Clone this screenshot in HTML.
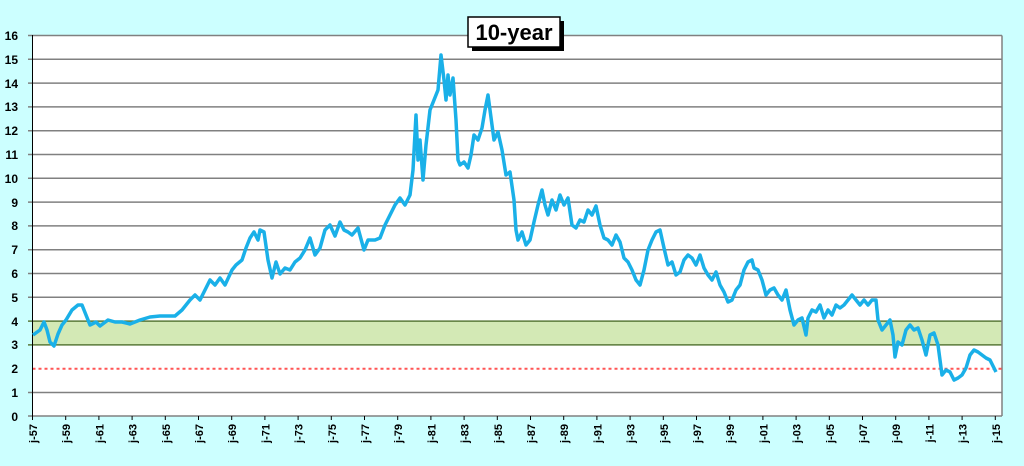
<!DOCTYPE html>
<html><head><meta charset="utf-8"><style>
body{margin:0;background:#ccffff;}
svg{display:block;font-family:"Liberation Sans",sans-serif;}
</style></head><body>
<svg width="1024" height="466" viewBox="0 0 1024 466" xmlns="http://www.w3.org/2000/svg">
<rect width="1024" height="466" fill="#ccffff"/>
<rect x="32.5" y="35.5" width="969.5" height="380.5" fill="#fff"/>
<rect x="32.5" y="321" width="969.5" height="24" fill="#d3e9b5"/>
<g stroke="#808080" stroke-width="1.5">
<line x1="28" y1="35.5" x2="1002" y2="35.5"/>
<line x1="28" y1="59.3" x2="1002" y2="59.3"/>
<line x1="28" y1="83.1" x2="1002" y2="83.1"/>
<line x1="28" y1="106.9" x2="1002" y2="106.9"/>
<line x1="28" y1="130.7" x2="1002" y2="130.7"/>
<line x1="28" y1="154.5" x2="1002" y2="154.5"/>
<line x1="28" y1="178.3" x2="1002" y2="178.3"/>
<line x1="28" y1="202.1" x2="1002" y2="202.1"/>
<line x1="28" y1="225.9" x2="1002" y2="225.9"/>
<line x1="28" y1="249.7" x2="1002" y2="249.7"/>
<line x1="28" y1="273.5" x2="1002" y2="273.5"/>
<line x1="28" y1="297.3" x2="1002" y2="297.3"/>
<line x1="28" y1="321.1" x2="1002" y2="321.1" stroke="#5a7a3a"/>
<line x1="28" y1="344.9" x2="1002" y2="344.9" stroke="#5a7a3a"/>
<line x1="28" y1="392.5" x2="1002" y2="392.5"/>
<line x1="28" y1="416" x2="1002" y2="416"/>
<line x1="1002" y1="35.5" x2="1002" y2="416"/>
</g>
<line x1="32.5" y1="368.7" x2="1002" y2="368.7" stroke="#ff5555" stroke-width="2" stroke-dasharray="3,3"/>
<line x1="32.5" y1="35" x2="32.5" y2="420" stroke="#000" stroke-width="1"/>
<g stroke="#000">
<line x1="32.5" y1="416" x2="32.5" y2="420"/><line x1="65.7" y1="416" x2="65.7" y2="420"/><line x1="98.9" y1="416" x2="98.9" y2="420"/><line x1="132.1" y1="416" x2="132.1" y2="420"/><line x1="165.3" y1="416" x2="165.3" y2="420"/><line x1="198.5" y1="416" x2="198.5" y2="420"/><line x1="231.7" y1="416" x2="231.7" y2="420"/><line x1="264.9" y1="416" x2="264.9" y2="420"/><line x1="298.1" y1="416" x2="298.1" y2="420"/><line x1="331.3" y1="416" x2="331.3" y2="420"/><line x1="364.5" y1="416" x2="364.5" y2="420"/><line x1="397.7" y1="416" x2="397.7" y2="420"/><line x1="430.9" y1="416" x2="430.9" y2="420"/><line x1="464.1" y1="416" x2="464.1" y2="420"/><line x1="497.3" y1="416" x2="497.3" y2="420"/><line x1="530.5" y1="416" x2="530.5" y2="420"/><line x1="563.7" y1="416" x2="563.7" y2="420"/><line x1="596.9" y1="416" x2="596.9" y2="420"/><line x1="630.1" y1="416" x2="630.1" y2="420"/><line x1="663.3" y1="416" x2="663.3" y2="420"/><line x1="696.5" y1="416" x2="696.5" y2="420"/><line x1="729.7" y1="416" x2="729.7" y2="420"/><line x1="762.9" y1="416" x2="762.9" y2="420"/><line x1="796.1" y1="416" x2="796.1" y2="420"/><line x1="829.3" y1="416" x2="829.3" y2="420"/><line x1="862.5" y1="416" x2="862.5" y2="420"/><line x1="895.7" y1="416" x2="895.7" y2="420"/><line x1="928.9" y1="416" x2="928.9" y2="420"/><line x1="962.1" y1="416" x2="962.1" y2="420"/><line x1="995.3" y1="416" x2="995.3" y2="420"/>
</g>
<g font-size="12" font-weight="bold" fill="#000" text-anchor="end">
<text x="18" y="40">16</text><text x="18" y="64">15</text><text x="18" y="88">14</text><text x="18" y="111">13</text><text x="18" y="135">12</text><text x="18" y="159">11</text><text x="18" y="183">10</text><text x="18" y="207">9</text><text x="18" y="230">8</text><text x="18" y="254">7</text><text x="18" y="278">6</text><text x="18" y="302">5</text><text x="18" y="326">4</text><text x="18" y="349">3</text><text x="18" y="373">2</text><text x="18" y="397">1</text><text x="18" y="421">0</text>
</g>
<g font-size="11" font-weight="bold" fill="#000" text-anchor="end">
<text transform="translate(37,424) rotate(-90)">j-57</text>
<text transform="translate(70.2,424) rotate(-90)">j-59</text>
<text transform="translate(103.4,424) rotate(-90)">j-61</text>
<text transform="translate(136.6,424) rotate(-90)">j-63</text>
<text transform="translate(169.8,424) rotate(-90)">j-65</text>
<text transform="translate(203,424) rotate(-90)">j-67</text>
<text transform="translate(236.2,424) rotate(-90)">j-69</text>
<text transform="translate(269.4,424) rotate(-90)">j-71</text>
<text transform="translate(302.6,424) rotate(-90)">j-73</text>
<text transform="translate(335.8,424) rotate(-90)">j-75</text>
<text transform="translate(369,424) rotate(-90)">j-77</text>
<text transform="translate(402.2,424) rotate(-90)">j-79</text>
<text transform="translate(435.4,424) rotate(-90)">j-81</text>
<text transform="translate(468.6,424) rotate(-90)">j-83</text>
<text transform="translate(501.8,424) rotate(-90)">j-85</text>
<text transform="translate(535,424) rotate(-90)">j-87</text>
<text transform="translate(568.2,424) rotate(-90)">j-89</text>
<text transform="translate(601.4,424) rotate(-90)">j-91</text>
<text transform="translate(634.6,424) rotate(-90)">j-93</text>
<text transform="translate(667.8,424) rotate(-90)">j-95</text>
<text transform="translate(701,424) rotate(-90)">j-97</text>
<text transform="translate(734.2,424) rotate(-90)">j-99</text>
<text transform="translate(767.4,424) rotate(-90)">j-01</text>
<text transform="translate(800.6,424) rotate(-90)">j-03</text>
<text transform="translate(833.8,424) rotate(-90)">j-05</text>
<text transform="translate(867,424) rotate(-90)">j-07</text>
<text transform="translate(900.2,424) rotate(-90)">j-09</text>
<text transform="translate(933.4,424) rotate(-90)">j-11</text>
<text transform="translate(966.6,424) rotate(-90)">j-13</text>
<text transform="translate(999.8,424) rotate(-90)">j-15</text>
</g>
<polyline fill="none" stroke="#1ab0e8" stroke-width="3.5" stroke-linejoin="round" points="33,335 40,330 44,322 47,330 50,342 54,346 58,334 62,325 66,320 72,310 78,305 82,305 86,315 90,325 96,322 100,326 108,320 115,322 122,322 130,324 140,320 150,317 160,316 175,316 182,310 190,300 195,295 200,300 205,290 210,280 215,285 220,278 225,285 232,270 236,265 242,260 246,248 250,238 254,232 258,240 260,230 264,232 268,260 272,278 276,262 280,274 285,268 290,270 295,262 300,258 305,250 310,238 315,255 320,248 325,230 330,225 335,236 340,222 344,230 348,232 352,235 358,228 364,250 368,240 375,240 380,238 385,225 390,215 395,205 400,198 405,205 410,195 413,170 416,115 418,160 420,140 423,180 426,145 430,110 434,100 438,90 441,55 444,80 446,100 448,75 450,95 453,78 456,120 458,160 460,165 464,162 468,168 471,155 474,135 478,140 482,128 485,110 488,95 490,110 494,140 498,132 502,150 506,175 510,172 514,200 516,230 518,240 522,232 526,245 530,240 534,222 538,205 542,190 545,205 548,215 552,200 556,210 560,195 564,205 568,198 572,225 576,228 580,220 584,222 588,210 592,215 596,206 600,225 604,238 608,240 612,245 616,235 620,242 624,258 628,262 632,270 636,280 640,285 644,270 648,250 652,240 656,232 660,230 664,248 668,265 672,262 676,275 680,272 684,260 688,255 692,258 696,265 700,255 704,268 708,275 712,280 716,272 720,285 724,292 728,302 732,300 736,290 740,285 744,270 748,262 752,260 754,268 758,270 762,280 766,295 770,290 774,288 778,295 782,300 786,290 790,310 794,325 798,320 802,318 806,335 808,318 812,310 816,312 820,305 824,318 828,310 832,315 836,305 840,308 844,305 848,300 852,295 856,300 860,305 864,300 868,305 872,300 876,300 878,320 882,330 886,325 890,320 893,335 895,357 898,342 902,345 906,330 910,325 914,330 918,328 922,340 926,355 930,335 934,333 938,345 942,375 946,370 950,372 954,380 958,378 962,375 966,368 970,355 974,350 978,352 982,355 986,358 990,360 994,368 996,372"/>
<rect x="472" y="21" width="92" height="30" fill="#000"/>
<rect x="468" y="17" width="92" height="30" fill="#fff" stroke="#000" stroke-width="1.5"/>
<text x="514" y="40" text-anchor="middle" font-size="22" font-weight="bold" fill="#000">10-year</text>
</svg>
</body></html>
